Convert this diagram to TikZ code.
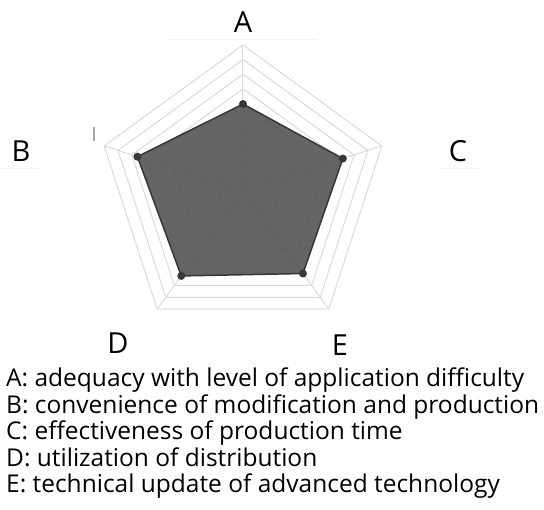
\documentclass[tikz,border=0pt]{standalone}
\usepackage{fontspec}
\setmainfont{Open Sans}
\usepackage{tikz}
\usetikzlibrary{positioning}
\usetikzlibrary{calc}
\definecolor{gridgray}{RGB}{218,218,218}
\definecolor{areagray}{RGB}{88,88,88}
\definecolor{edgegray}{RGB}{55,55,55}
\definecolor{ghostgray}{RGB}{244,244,244}

\begin{document}
\begin{tikzpicture}[x=1pt, y=1pt, every node/.style={align=center, inner sep=0pt},
    axislabel/.style={font=\fontsize{29}{34}\selectfont},
    legendline/.style={anchor=base west, font=\fontsize{24.5}{28}\selectfont}]

    \useasboundingbox (-243,-319) rectangle (301,191);

    % Grid rings
    \foreach \r in {1,...,10} {
        \draw[gridgray, line width=1pt] (90:{14.6*\r}) -- (162:{14.6*\r}) -- (234:{14.6*\r}) -- (306:{14.6*\r}) -- (18:{14.6*\r}) -- cycle;
    }
    % Spokes
    \foreach \a in {90,162,234,306,18} {
        \draw[gridgray, line width=1pt] (0,0) -- (\a:146);
    }

    % Faint marks round the labels
    \draw[ghostgray, line width=0.8pt] (-75,152) -- (74,152);
    \draw[ghostgray, line width=0.8pt] (-243,23) -- (-203,23);
    \draw[ghostgray, line width=0.8pt] (197,23) -- (237,23);
    \draw[gray!70, line width=1.2pt] (-149,64) -- (-149,50);

    % Data area
    \coordinate (pA) at (90:87);
    \coordinate (pB) at (162:111);
    \coordinate (pC) at (18:105);
    \coordinate (pD) at (234:105);
    \coordinate (pE) at (306:102);

    \draw[edgegray, line width=1.5pt, fill=areagray, fill opacity=0.92, line join=round]
        (pA) -- (pC) -- (pE) -- (pD) -- (pB) -- cycle;
    \foreach \p in {pA,pB,pC,pD,pE} {
        \fill[edgegray] (\p) circle (4);
    }

    % Axis labels
    \node[axislabel] (labA) at (0,169) {A};
    \node[axislabel] (labB) at (-222,40) {B};
    \node[axislabel] (labC) at (215,40) {C};
    \node[axislabel] (labD) at (-125,-152) {D};
    \node[axislabel] (labE) at (97,-154) {E};

    % Legend
    \foreach \k/\txt [count=\i] in {A/adequacy with level of application difficulty,
        B/convenience of modification and production,
        C/effectiveness of production time,
        D/utilization of distribution,
        E/technical update of advanced technology} {
        \node[legendline] (leg\k) at (-237,{-196-26.5*(\i-1)}) {\k: \txt};
    }

\end{tikzpicture}
\end{document}
